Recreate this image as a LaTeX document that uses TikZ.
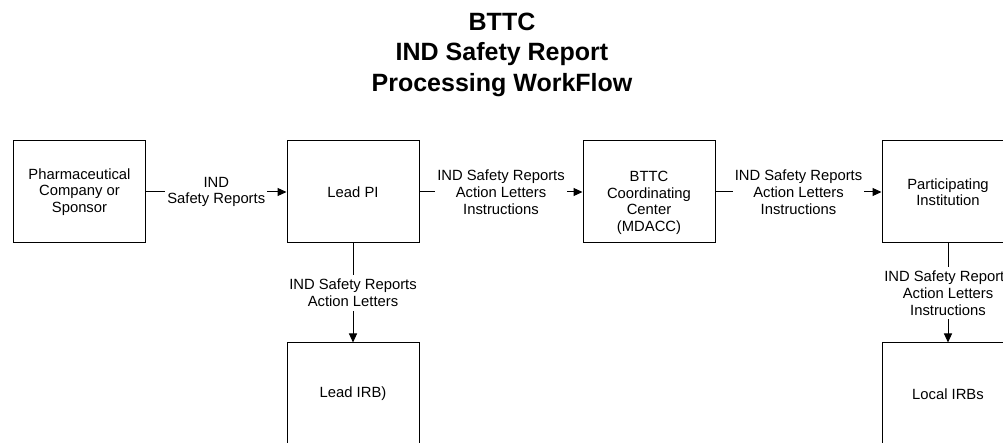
\documentclass[tikz,border=0pt]{standalone}
\usepackage{fontspec}
\setmainfont{Liberation Sans}
\usetikzlibrary{arrows.meta}
\tikzset{
  box/.style={draw=black, line width=1bp, minimum width=132bp, minimum height=102bp,
    inner sep=0pt, align=center, font=\fontsize{14.8bp}{16.5bp}\selectfont},
  lbl/.style={fill=white, inner xsep=2bp, inner ysep=4bp, align=center,
    font=\fontsize{14.8bp}{16.8bp}\selectfont},
  arr/.style={draw=black, line width=1bp, -{Triangle[length=9bp,width=8bp]}},
  ttl/.style={align=center, font=\fontsize{25bp}{30.5bp}\selectfont\bfseries}
}
\begin{document}
\begin{tikzpicture}[x=1bp,y=-1bp]
\useasboundingbox (0,0) rectangle (1003,443);
\clip (0,0) rectangle (1003,443);
\node[ttl] (title) at (502,54.6) {BTTC\\IND Safety Report\\Processing WorkFlow};
\node[box] (pharma) at (79.5,192) {Pharmaceutical\\Company or\\Sponsor};
\node[box] (leadpi) at (353,192) {Lead PI};
\node[box] (bttc) at (649,192) {\raisebox{-15bp}[33bp][33bp]{\begin{tabular}{@{}c@{}}BTTC\\Coordinating\\Center\\(MDACC)\end{tabular}}};
\node[box] (part) at (948,192) {Participating\\Institution};
\node[box] (leadirb) at (353,394) {Lead IRB)};
\node[box] (local) at (948,394) {Local IRBs};
\draw[arr] (pharma) -- node[lbl] (l1) {IND\\Safety Reports} (leadpi);
\draw[arr] (leadpi) -- node[lbl] (l2) {IND Safety Reports\\Action Letters\\Instructions} (bttc);
\draw[arr] (bttc) -- node[lbl] (l3) {IND Safety Reports\\Action Letters\\Instructions} (part);
\draw[arr] (leadpi) -- node[lbl] (l4) {IND Safety Reports\\Action Letters} (leadirb);
\draw[arr] (part) -- node[lbl] (l5) {IND Safety Reports\\Action Letters\\Instructions} (local);
\end{tikzpicture}
\end{document}
